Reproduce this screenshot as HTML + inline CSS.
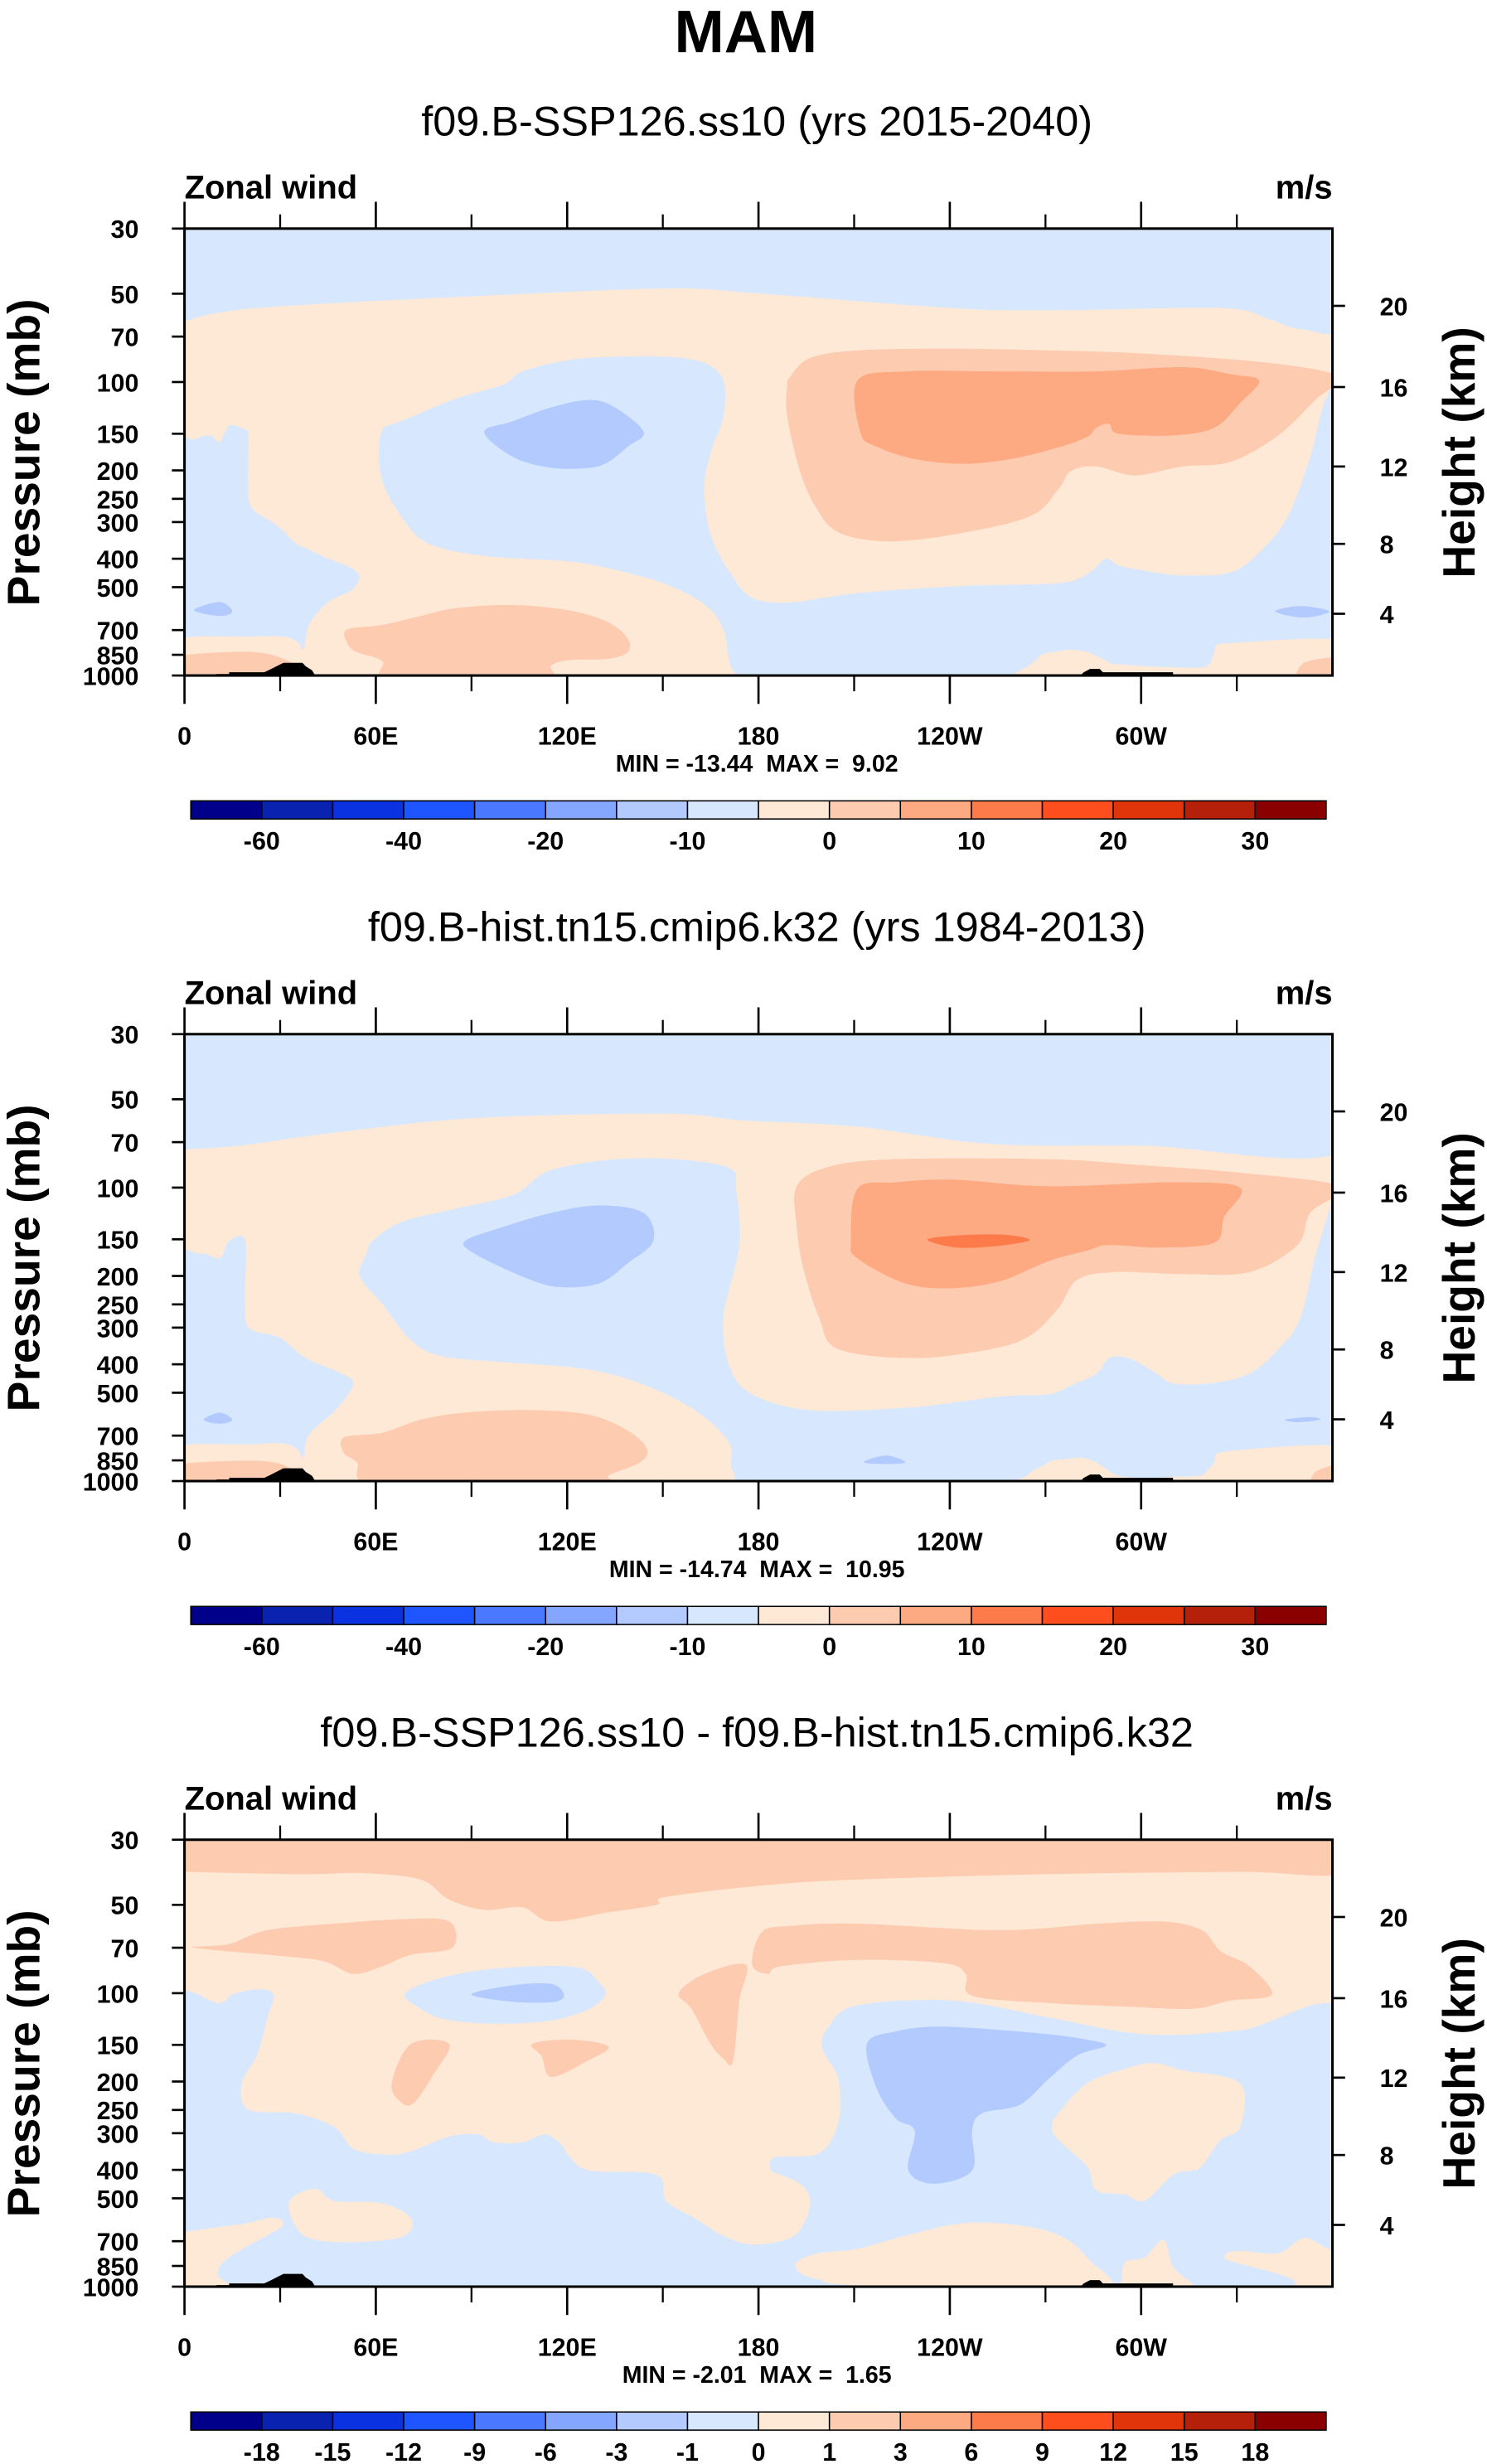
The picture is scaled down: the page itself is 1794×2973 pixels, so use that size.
<!DOCTYPE html>
<html>
<head>
<meta charset="utf-8">
<style>
  html,body{margin:0;padding:0;background:#fff;}
  svg{display:block;}
  text{font-family:"Liberation Sans",Arial,sans-serif;}
</style>
</head>
<body>
<svg id="fig" xmlns="http://www.w3.org/2000/svg" width="1794" height="2973" viewBox="0 0 943 1563" preserveAspectRatio="none">
  <rect x="0" y="0" width="943" height="1563" fill="#ffffff"/>
  <text x="473" y="33" font-size="38" font-weight="bold" text-anchor="middle">MAM</text>
</svg>
<script>
// ---------- data ----------
const pressureTicks = [30, 50, 70, 100, 150, 200, 250, 300, 400, 500, 700, 850, 1000];
const heightTicks = [4, 8, 12, 16, 20];
const heightTickP = [616, 356, 194, 104, 55];
const lonMajor = [0, 60, 120, 180, 240, 300];
const lonLabels = ["0", "60E", "120E", "180", "120W", "60W"];
const lonMinor = [30, 90, 150, 210, 270, 330];
const panelTitles = ["f09.B-SSP126.ss10 (yrs 2015-2040)", "f09.B-hist.tn15.cmip6.k32 (yrs 1984-2013)", "f09.B-SSP126.ss10 - f09.B-hist.tn15.cmip6.k32"];
const panelMin = ["-13.44", "-14.74", "-2.01"];
const panelMax = ["9.02", "10.95", "1.65"];
const cbLabelsAbs = ["-60", "-40", "-20", "-10", "0", "10", "20", "30"];
const cbLabelIdxAbs = [1, 3, 5, 7, 9, 11, 13, 15];
const cbLabelsDiff = ["-18","-15","-12","-9","-6","-3","-1","0","1","3","6","9","12","15","18"];
const cbLabelIdxDiff = [1,2,3,4,5,6,7,8,9,10,11,12,13,14,15];
const cbColors = ["#00008a","#0a22b0","#0a32e0","#1e55ff","#4a78ff","#84a6ff","#b2cafd","#d7e8fe","#fee8d6","#fdcbb0","#fda981","#fd7a4a","#ff4e1e","#e0340a","#b5200a","#8a0000"];

// contour outlines [lon, pressure]
const terrainLeft = [[10,1000],[10,988],[14,988],[14,975],[25,975],[27,952],[31,905],[37,905],[38,930],[40,960],[41,1000]];
const terrainRight = [[281,1000],[282,975],[284,950],[287,950],[288,975],[310,975],[310,1000]];

const p1TopBlue = [[-5,25],[365,25],[365,63],[350,66],[340,61],[325,56],[271,57],[241,56],[181,50],[151,48],[91,51],[32,55],[11,58],[0,62],[-5,63]];
const p1LeftBlue = [[-5,174],[3,157],[8,152],[11,160],[14,141],[18,144],[20,152],[20,216],[21,267],[29,308],[35,355],[38,368],[44,395],[54,443],[53,506],[45,563],[39,673],[37,818],[32,750],[0,765],[-5,765]];
const p1BigBlue = [[62,146],[68,136],[85,114],[100,102],[106,92],[121,84],[136,82],[151,82],[163,86],[169,99],[169,131],[165,174],[163,232],[165,331],[171,445],[178,543],[190,563],[211,524],[241,497],[265,489],[277,480],[284,445],[289,400],[293,422],[301,439],[313,456],[328,445],[337,381],[346,287],[353,180],[358,114],[365,99],[365,765],[328,775],[323,832],[322,925],[313,940],[295,920],[286,893],[277,832],[269,848],[265,925],[250,1050],[211,1050],[181,1050],[172,960],[169,697],[163,573],[151,489],[136,439],[121,409],[98,395],[83,374],[74,343],[68,287],[63,232],[61,187]];
const p1EastP2 = [[190,96],[196,83],[211,78],[241,77],[271,78],[301,80],[340,86],[362,96],[355,114],[343,152],[328,187],[313,194],[298,208],[286,194],[278,201],[274,232],[265,287],[241,331],[220,349],[205,325],[198,267],[193,201],[189,131],[189,103]];
const p1EastOr = [[211,99],[226,92],[256,92],[286,92],[313,89],[328,94],[337,99],[331,118],[323,143],[310,152],[293,150],[290,139],[286,143],[283,154],[274,167],[259,183],[244,190],[229,183],[217,166],[212,149]];
const p1MidB2 = [[94,148],[103,136],[115,122],[127,115],[135,122],[144,148],[139,166],[133,187],[127,196],[115,196],[103,180]];
const p1SmallB2a = [[3,599],[11,562],[15,605],[11,627]];
const p1SmallB2b = [[342,605],[350,580],[359,605],[351,635]];
const p1LowP2 = [[51,697],[62,673],[74,627],[85,590],[103,575],[121,601],[133,660],[139,749],[139,832],[133,877],[121,886],[115,925],[112,1050],[65,1050],[62,893],[54,832],[51,775]];
const p1SurfLeftP = [[-5,765],[20,737],[33,745],[36,832],[37,1050],[-5,1050]];
const p1SurfLeftP2 = [[-5,877],[14,832],[27,848],[38,958],[40,1050],[-5,1050]];
const p1SurfRightP = [[328,775],[365,765],[365,1050],[321,1050],[322,893],[324,803]];
const p1SurfRightP2 = [[350,925],[356,877],[365,877],[365,1050],[350,1050]];
const p1Blob = [[265,1050],[265,925],[273,832],[282,826],[291,925],[292,1050]];

const p2TopBlue = [[-5,25],[365,25],[365,74],[301,72],[253,71],[211,62],[175,59],[151,56],[91,58],[47,65],[17,72],[0,74],[-5,74]];
const p2LeftBlue = [[-5,187],[5,168],[11,174],[14,152],[19,151],[19,224],[20,298],[30,325],[38,381],[48,424],[53,464],[48,563],[39,697],[37,832],[32,762],[0,775],[-5,775]];
const p2BigBlue = [[59,152],[68,131],[85,118],[103,106],[112,90],[121,84],[136,80],[154,80],[171,86],[173,102],[174,157],[169,277],[171,409],[178,506],[196,573],[226,563],[256,515],[271,506],[278,472],[286,430],[290,381],[296,381],[304,424],[310,464],[322,464],[334,430],[343,355],[350,277],[356,152],[365,99],[365,768],[328,790],[323,862],[320,950],[310,968],[298,975],[286,925],[277,848],[271,862],[266,958],[241,1050],[181,1050],[172,925],[171,749],[163,605],[151,506],[136,439],[121,409],[98,392],[80,374],[71,331],[62,249],[55,201],[57,168]];
const p2EastP2 = [[192,99],[202,85],[223,80],[271,80],[301,84],[331,89],[362,99],[353,122],[349,157],[334,194],[313,197],[292,194],[280,206],[274,258],[265,320],[253,355],[229,381],[205,355],[199,277],[194,187],[192,136]];
const p2EastOr = [[211,101],[223,96],[241,94],[271,99],[310,96],[331,100],[326,126],[323,154],[306,160],[290,157],[283,164],[271,178],[256,208],[241,220],[226,212],[211,174],[209,152]];
const p2Dark = [[233,150],[245,145],[258,145],[265,151],[255,158],[242,160]];
const p2MidB2 = [[88,152],[100,136],[115,122],[130,115],[144,122],[147,152],[139,181],[130,212],[117,218],[106,201],[91,168]];
const p2SmallB2a = [[6,618],[11,584],[15,618],[11,638]];
const p2SmallB2b = [[345,618],[353,605],[356,618],[349,630]];
const p2SmallB2c = [[213,862],[220,818],[226,862],[220,875]];
const p2LowP2 = [[50,710],[62,685],[74,618],[88,584],[109,573],[127,595],[139,673],[145,775],[143,862],[133,958],[130,1050],[62,1050],[54,862],[50,803]];
const p2SurfLeftP = [[-5,775],[20,749],[33,752],[37,862],[38,1050],[-5,1050]];
const p2SurfLeftP2 = [[-5,893],[14,855],[29,868],[38,980],[40,1050],[-5,1050]];
const p2SurfRightP = [[328,790],[365,768],[365,1050],[322,1050],[323,862]];
const p2SurfRightP2 = [[355,925],[365,877],[365,1050],[354,1050]];
const p2Blob = [[264,1050],[266,925],[275,848],[283,840],[290,925],[295,1050]];

const p3TopP2 = [[-5,25],[365,25],[365,38.6],[331,38.6],[271,39.3],[211,41],[181,43],[151,47],[148,50],[133,53],[115,57],[106,51],[94,52],[83,48],[74,41],[56,39],[36,39.3],[0,38.6],[-5,38.6]];
const p3LeftP2 = [[3,70],[14,68],[26,61],[47,58],[68,56],[83,57],[84,70],[71,74],[62,81],[53,86],[44,78],[32,75]];
const p3RightP2 = [[178,80],[181,62],[190,59],[211,58],[256,61],[286,58],[307,57],[319,61],[325,72],[334,81],[341,101],[328,106],[316,113],[295,111],[271,108],[247,102],[245,86],[238,79],[211,77],[187,81],[183,86]];
const p3DiagP2 = [[155,100],[163,86],[176,80],[174,106],[172,171],[169,167],[165,149],[159,113]];
const p3P2a = [[71,149],[83,149],[78,190],[72,236],[68,236],[65,203]];
const p3P2b = [[109,149],[121,144],[133,152],[126,171],[115,193],[112,164]];
const p3MidBlue = [[69,101],[77,91],[91,84],[109,81],[124,82],[130,92],[132,101],[127,113],[115,124],[97,127],[82,123],[74,113]];
const p3MidB2 = [[90,101],[103,94],[115,93],[119,101],[116,107],[103,107]];
const p3BigBlue = [[-5,113],[11,108],[15,101],[23,97],[28,101],[26,121],[23,160],[18,203],[20,249],[35,257],[47,286],[53,339],[63,355],[71,346],[83,308],[92,303],[97,322],[106,322],[113,303],[118,326],[121,363],[127,402],[148,416],[151,510],[160,585],[169,671],[178,718],[190,683],[195,585],[196,496],[193,446],[187,416],[184,402],[185,363],[199,351],[205,276],[205,196],[200,154],[202,130],[211,110],[241,106],[271,121],[301,138],[331,134],[365,119],[365,657],[351,683],[343,769],[331,756],[326,796],[327,1050],[32,1050],[31,605],[17,615],[0,650],[-5,650]];
const p3BlobP = [[33,510],[41,464],[47,510],[62,520],[71,585],[69,671],[56,704],[41,693],[35,627]];
const p3RightBlobP = [[274,257],[283,203],[295,181],[304,173],[313,183],[331,203],[331,286],[325,316],[319,389],[316,402],[310,416],[301,510],[295,486],[286,470],[283,389],[274,316],[272,286]];
const p3SurfCenterP = [[192,824],[199,769],[211,744],[226,671],[247,605],[271,648],[283,796],[286,1050],[211,990],[199,945],[193,898]];
const p3SurfP60W = [[294,945],[295,824],[301,796],[307,693],[310,853],[316,976],[319,1050],[294,1050]];
const p3B2 = [[214,149],[223,135],[238,130],[268,137],[283,144],[289,151],[280,163],[271,196],[262,240],[250,257],[247,295],[247,402],[235,446],[227,402],[229,295],[223,267],[217,210]];

// ---------- styles / layout ----------
const C_LB = "#d7e8fe", C_P = "#fee8d6", C_P2 = "#fdcbb0", C_OR = "#fda981", C_B2 = "#b2cafd", C_DO = "#fd7a4a";
const PLOT_X0 = 117, PLOT_X1 = 845, PLOT_H = 283.5;
const PANEL_DY = 511;
const BASE_TOP = 145;

function xOf(lon){ return PLOT_X0 + lon / 360 * (PLOT_X1 - PLOT_X0); }
function yOf(p, top){ return top + Math.log(p / 30) / Math.log(1000 / 30) * PLOT_H; }

const NS = "http://www.w3.org/2000/svg";
const svg = document.getElementById("fig");
function mk(tag, attrs, parent){
  const e = document.createElementNS(NS, tag);
  for (const k in attrs) e.setAttribute(k, attrs[k]);
  (parent || svg).appendChild(e);
  return e;
}
function smoothPath(pts){
  const n = pts.length;
  let d = "M" + pts[0][0].toFixed(2) + "," + pts[0][1].toFixed(2);
  for (let i = 0; i < n; i++){
    const p0 = pts[(i - 1 + n) % n], p1 = pts[i], p2 = pts[(i + 1) % n], p3 = pts[(i + 2) % n];
    const c1x = p1[0] + (p2[0] - p0[0]) / 6, c1y = p1[1] + (p2[1] - p0[1]) / 6;
    const c2x = p2[0] - (p3[0] - p1[0]) / 6, c2y = p2[1] - (p3[1] - p1[1]) / 6;
    d += "C" + c1x.toFixed(2) + "," + c1y.toFixed(2) + " " + c2x.toFixed(2) + "," + c2y.toFixed(2) + " " + p2[0].toFixed(2) + "," + p2[1].toFixed(2);
  }
  return d + "Z";
}
function polyPath(pts){
  return "M" + pts.map(p => p[0].toFixed(2) + "," + p[1].toFixed(2)).join("L") + "Z";
}

const panels = [
  { bg: C_P, layers: [
    ["top-negative-region", C_LB, p1TopBlue], ["west-negative-region", C_LB, p1LeftBlue], ["central-negative-region", C_LB, p1BigBlue],
    ["jet-positive-region", C_P2, p1EastP2], ["jet-core-region", C_OR, p1EastOr], ["easterly-core-region", C_B2, p1MidB2],
    ["small-negative-west", C_B2, p1SmallB2a], ["small-negative-east", C_B2, p1SmallB2b], ["lower-positive-region", C_P2, p1LowP2],
    ["surface-positive-west", C_P, p1SurfLeftP], ["surface-positive2-west", C_P2, p1SurfLeftP2], ["surface-positive-east", C_P, p1SurfRightP],
    ["surface-positive2-east", C_P2, p1SurfRightP2], ["surface-positive-blob", C_P, p1Blob] ] },
  { bg: C_P, layers: [
    ["top-negative-region", C_LB, p2TopBlue], ["west-negative-region", C_LB, p2LeftBlue], ["central-negative-region", C_LB, p2BigBlue],
    ["jet-positive-region", C_P2, p2EastP2], ["jet-core-region", C_OR, p2EastOr], ["jet-max-region", C_DO, p2Dark], ["easterly-core-region", C_B2, p2MidB2],
    ["small-negative-west", C_B2, p2SmallB2a], ["small-negative-east", C_B2, p2SmallB2b], ["small-negative-low", C_B2, p2SmallB2c],
    ["lower-positive-region", C_P2, p2LowP2], ["surface-positive-west", C_P, p2SurfLeftP], ["surface-positive2-west", C_P2, p2SurfLeftP2],
    ["surface-positive-east", C_P, p2SurfRightP], ["surface-positive2-east", C_P2, p2SurfRightP2], ["surface-positive-blob", C_P, p2Blob] ] },
  { bg: C_P, layers: [
    ["top-positive-band", C_P2, p3TopP2], ["west-positive2-region", C_P2, p3LeftP2], ["east-positive2-region", C_P2, p3RightP2],
    ["dateline-positive2-region", C_P2, p3DiagP2], ["small-positive2-a", C_P2, p3P2a], ["small-positive2-b", C_P2, p3P2b],
    ["upper-negative-region", C_LB, p3MidBlue], ["upper-negative-core", C_B2, p3MidB2], ["lower-negative-region", C_LB, p3BigBlue],
    ["west-positive-blob", C_P, p3BlobP], ["east-positive-blob", C_P, p3RightBlobP], ["surface-positive-center", C_P, p3SurfCenterP],
    ["surface-positive-60w", C_P, p3SurfP60W], ["negative-core-120w", C_B2, p3B2] ] }
];

panels.forEach((panel, k) => {
  const top = BASE_TOP + k * PANEL_DY;
  const bot = top + PLOT_H;
  const off = k * PANEL_DY;
  const g = mk("g", {});
  
  

  const sub = mk("text", { x: 480, y: 86 + off, "font-size": 26.5, "text-anchor": "middle" }, g);
  sub.textContent = panelTitles[k];
  
  

  const zw = mk("text", { x: 117, y: 126 + off, "font-size": 21, "font-weight": "bold" }, g);
  zw.textContent = "Zonal wind";
  
  

  const un = mk("text", { x: 845, y: 126 + off, "font-size": 21, "font-weight": "bold", "text-anchor": "end" }, g);
  un.textContent = "m/s";
  
  

  const cp = mk("clipPath", { id: "clip" + k }, g);
  mk("rect", { x: PLOT_X0, y: top, width: PLOT_X1 - PLOT_X0, height: PLOT_H }, cp);
  const field = mk("g", { "clip-path": "url(#clip" + k + ")" }, g);
  
  
  const bgr = mk("rect", { x: PLOT_X0, y: top, width: PLOT_X1 - PLOT_X0, height: PLOT_H, fill: panel.bg }, field);
  
  
  panel.layers.forEach(L => {
    const pts = L[2].map(q => [xOf(q[0]), yOf(q[1], top)]);
    const pth = mk("path", { d: smoothPath(pts), fill: L[1] }, field);
    
    
  });
  [terrainLeft, terrainRight].forEach((T, i) => {
    const pts = T.map(q => [xOf(q[0]), yOf(q[1], top)]);
    const tp = mk("path", { d: polyPath(pts), fill: "#000" }, field);
    
    
  });

  const fr = mk("rect", { x: PLOT_X0, y: top, width: PLOT_X1 - PLOT_X0, height: PLOT_H, fill: "none", stroke: "#000", "stroke-width": 1.6 }, g);
  
  

  pressureTicks.forEach(p => {
    const y = yOf(p, top);
    mk("line", { x1: PLOT_X0 - 8, x2: PLOT_X0, y1: y, y2: y, stroke: "#000", "stroke-width": 1.4 }, g);
    const t = mk("text", { x: 88, y: y + 6, "font-size": 16, "font-weight": "bold", "text-anchor": "end" }, g);
    t.textContent = String(p);
    
    
  });
  const pl = mk("text", { x: 0, y: 0, "font-size": 29, "font-weight": "bold", "text-anchor": "middle", transform: "translate(25," + (top + 142) + ") rotate(-90)" }, g);
  pl.textContent = "Pressure (mb)";
  
  

  heightTicks.forEach((h, i) => {
    const y = yOf(heightTickP[i], top);
    mk("line", { x1: PLOT_X1, x2: PLOT_X1 + 8, y1: y, y2: y, stroke: "#000", "stroke-width": 1.4 }, g);
    const t = mk("text", { x: 875, y: y + 6, "font-size": 16, "font-weight": "bold" }, g);
    t.textContent = String(h);
    
    
  });
  const hl = mk("text", { x: 0, y: 0, "font-size": 29, "font-weight": "bold", "text-anchor": "middle", transform: "translate(935," + (top + 142) + ") rotate(-90)" }, g);
  hl.textContent = "Height (km)";
  
  

  lonMajor.forEach((lon, i) => {
    const x = xOf(lon);
    mk("line", { x1: x, x2: x, y1: top - 17, y2: top, stroke: "#000", "stroke-width": 1.4 }, g);
    mk("line", { x1: x, x2: x, y1: bot, y2: bot + 18, stroke: "#000", "stroke-width": 1.4 }, g);
    const t = mk("text", { x: x, y: bot + 44, "font-size": 16, "font-weight": "bold", "text-anchor": "middle" }, g);
    t.textContent = lonLabels[i];
    
    
  });
  lonMinor.forEach(lon => {
    const x = xOf(lon);
    mk("line", { x1: x, x2: x, y1: top - 9, y2: top, stroke: "#000", "stroke-width": 1.2 }, g);
    mk("line", { x1: x, x2: x, y1: bot, y2: bot + 10, stroke: "#000", "stroke-width": 1.2 }, g);
  });

  const mm = mk("text", { x: 480, y: bot + 61, "font-size": 15, "font-weight": "bold", "text-anchor": "middle" }, g);
  mm.setAttribute("style", "white-space:pre");
  mm.textContent = "MIN = " + panelMin[k] + "  MAX =  " + panelMax[k];
  
  

  const cb = mk("g", {}, g);
  
  
  const cbTop = 508 + off, cbH = 11.5, cbX0 = 121, cbW = 720 / cbColors.length;
  cbColors.forEach((c, i) => {
    const r = mk("rect", { x: cbX0 + i * cbW, y: cbTop, width: cbW, height: cbH, fill: c, stroke: "#000", "stroke-width": 0.8 }, cb);
    
    
  });
  const labs = k < 2 ? cbLabelsAbs : cbLabelsDiff;
  const idx = k < 2 ? cbLabelIdxAbs : cbLabelIdxDiff;
  labs.forEach((s, i) => {
    const t = mk("text", { x: cbX0 + idx[i] * cbW, y: cbTop + 31, "font-size": 16, "font-weight": "bold", "text-anchor": "middle" }, cb);
    t.textContent = s;
    
    
  });
});
</script>
</body>
</html>
